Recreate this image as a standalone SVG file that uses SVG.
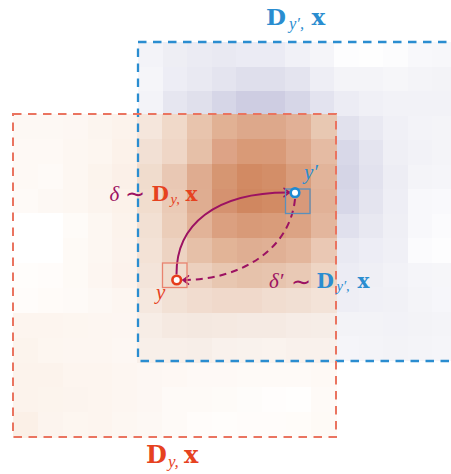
<svg xmlns="http://www.w3.org/2000/svg" width="451" height="474" viewBox="0 0 451 474">
<style>
.cells rect{shape-rendering:crispEdges;width:1.02px;height:1.02px}
.bf{font-family:"DejaVu Serif","Liberation Serif",serif;font-weight:bold}
.it{font-family:"Liberation Serif","DejaVu Serif",serif;font-style:italic}
.sym{font-family:"DejaVu Sans","DejaVu Serif",sans-serif}
.red{fill:#e6421f}
.blu{fill:#2a8dd0}
.pur{fill:#9c1262}
.conn{fill:none;stroke:#9c1262;stroke-width:2}
</style>
<defs>
<marker id="arr" markerUnits="userSpaceOnUse" markerWidth="14" markerHeight="14" viewBox="-7 -7 14 14" refX="0" refY="0" orient="auto" overflow="visible">
<path d="M -5.5 -4.2 Q -1.8 -1.2 0 0 Q -1.8 1.2 -5.5 4.2" fill="none" stroke="#9c1262" stroke-width="1.6" stroke-dasharray="none" stroke-linecap="round"/>
</marker>
</defs>
<rect width="451" height="474" fill="#ffffff"/>
<g id="heatmap-blue" class="cells" transform="translate(138,42) scale(24.5)">
<rect x="0" y="0" fill="#f3f3f8"/><rect x="1" y="0" fill="#eeeef4"/><rect x="2" y="0" fill="#ebebf3"/><rect x="3" y="0" fill="#e9e9f2"/><rect x="4" y="0" fill="#ebebf4"/><rect x="5" y="0" fill="#ebebf4"/><rect x="6" y="0" fill="#f1f1f7"/><rect x="7" y="0" fill="#f5f5f9"/><rect x="8" y="0" fill="#fdfdfe"/><rect x="9" y="0" fill="#fefefe"/><rect x="10" y="0" fill="#fcfcfd"/><rect x="11" y="0" fill="#f8f8fb"/><rect x="12" y="0" fill="#f7f7fa"/>
<rect x="0" y="1" fill="#f5f5f9"/><rect x="1" y="1" fill="#ededf5"/><rect x="2" y="1" fill="#e9e9f2"/><rect x="3" y="1" fill="#e4e4ef"/><rect x="4" y="1" fill="#dfdfec"/><rect x="5" y="1" fill="#dfdfec"/><rect x="6" y="1" fill="#e4e4ef"/><rect x="7" y="1" fill="#eeeef5"/><rect x="8" y="1" fill="#f4f4f8"/><rect x="9" y="1" fill="#f4f4f8"/><rect x="10" y="1" fill="#f6f6f9"/><rect x="11" y="1" fill="#f4f4f8"/><rect x="12" y="1" fill="#f3f3f7"/>
<rect x="0" y="2" fill="#f3f3f8"/><rect x="1" y="2" fill="#e6e6f0"/><rect x="2" y="2" fill="#e0e0ec"/><rect x="3" y="2" fill="#d6d6e7"/><rect x="4" y="2" fill="#cecde2"/><rect x="5" y="2" fill="#cecde2"/><rect x="6" y="2" fill="#d6d6e7"/><rect x="7" y="2" fill="#e3e3ef"/><rect x="8" y="2" fill="#ececf4"/><rect x="9" y="2" fill="#f0f0f6"/><rect x="10" y="2" fill="#f2f2f7"/><rect x="11" y="2" fill="#f2f2f7"/><rect x="12" y="2" fill="#f2f2f7"/>
<rect x="8" y="3" fill="#e1e1ed"/><rect x="9" y="3" fill="#e9e9f2"/><rect x="10" y="3" fill="#f0f0f6"/><rect x="11" y="3" fill="#f3f3f8"/><rect x="12" y="3" fill="#f4f4f8"/>
<rect x="8" y="4" fill="#d8d8e8"/><rect x="9" y="4" fill="#e4e4ef"/><rect x="10" y="4" fill="#efeff5"/><rect x="11" y="4" fill="#f2f2f7"/><rect x="12" y="4" fill="#f4f4f8"/>
<rect x="8" y="5" fill="#d5d5e6"/><rect x="9" y="5" fill="#e2e2ee"/><rect x="10" y="5" fill="#ededf4"/><rect x="11" y="5" fill="#f4f4f8"/><rect x="12" y="5" fill="#f5f5f9"/>
<rect x="8" y="6" fill="#d7d7e8"/><rect x="9" y="6" fill="#e4e4ef"/><rect x="10" y="6" fill="#eeeef5"/><rect x="11" y="6" fill="#f8f8fb"/><rect x="12" y="6" fill="#f9f9fc"/>
<rect x="8" y="7" fill="#e0e0ed"/><rect x="9" y="7" fill="#e8e8f1"/><rect x="10" y="7" fill="#efeff5"/><rect x="11" y="7" fill="#f8f8fb"/><rect x="12" y="7" fill="#fbfbfd"/>
<rect x="8" y="8" fill="#e9e9f2"/><rect x="9" y="8" fill="#ededf5"/><rect x="10" y="8" fill="#f0f0f6"/><rect x="11" y="8" fill="#fbfbfd"/><rect x="12" y="8" fill="#fdfdfe"/>
<rect x="8" y="9" fill="#ececf4"/><rect x="9" y="9" fill="#efeff5"/><rect x="10" y="9" fill="#f2f2f7"/><rect x="11" y="9" fill="#f5f5f9"/><rect x="12" y="9" fill="#f6f6f9"/>
<rect x="8" y="10" fill="#eeeef5"/><rect x="9" y="10" fill="#f0f0f6"/><rect x="10" y="10" fill="#f1f1f6"/><rect x="11" y="10" fill="#f4f4f8"/><rect x="12" y="10" fill="#f6f6fa"/>
<rect x="8" y="11" fill="#f3f3f7"/><rect x="9" y="11" fill="#f3f3f7"/><rect x="10" y="11" fill="#f2f2f7"/><rect x="11" y="11" fill="#f3f3f7"/><rect x="12" y="11" fill="#f4f4f8"/>
<rect x="8" y="12" fill="#f5f5f9"/><rect x="9" y="12" fill="#f4f4f8"/><rect x="10" y="12" fill="#f3f3f7"/><rect x="11" y="12" fill="#f4f4f8"/><rect x="12" y="12" fill="#f5f5f9"/>
</g>
<g id="heatmap-orange" class="cells" transform="translate(13,114) scale(24.85)">
<rect x="0" y="0" fill="#fdf8f4"/><rect x="1" y="0" fill="#fdf8f4"/><rect x="2" y="0" fill="#fdf7f3"/><rect x="3" y="0" fill="#fcf5ef"/><rect x="4" y="0" fill="#fcf3ec"/><rect x="5" y="0" fill="#f5e6dc"/><rect x="6" y="0" fill="#f0d9c9"/><rect x="7" y="0" fill="#e8c4ad"/><rect x="8" y="0" fill="#e1b194"/><rect x="9" y="0" fill="#dda88b"/><rect x="10" y="0" fill="#dda88b"/><rect x="11" y="0" fill="#e1b096"/><rect x="12" y="0" fill="#e8c8b2"/>
<rect x="0" y="1" fill="#fef9f5"/><rect x="1" y="1" fill="#fef9f5"/><rect x="2" y="1" fill="#fdf7f2"/><rect x="3" y="1" fill="#fdf6f0"/><rect x="4" y="1" fill="#fcf2ea"/><rect x="5" y="1" fill="#f2e0d4"/><rect x="6" y="1" fill="#efd6c6"/><rect x="7" y="1" fill="#e6c0a8"/><rect x="8" y="1" fill="#dda386"/><rect x="9" y="1" fill="#d99a77"/><rect x="10" y="1" fill="#d99a78"/><rect x="11" y="1" fill="#dea88b"/><rect x="12" y="1" fill="#e5bba3"/>
<rect x="0" y="2" fill="#fef9f5"/><rect x="1" y="2" fill="#fefaf7"/><rect x="2" y="2" fill="#fdf7f2"/><rect x="3" y="2" fill="#fcf4ed"/><rect x="4" y="2" fill="#fbf0e8"/><rect x="5" y="2" fill="#f0dccd"/><rect x="6" y="2" fill="#e9c8b4"/><rect x="7" y="2" fill="#dfac90"/><rect x="8" y="2" fill="#d69672"/><rect x="9" y="2" fill="#d28a63"/><rect x="10" y="2" fill="#d38e68"/><rect x="11" y="2" fill="#d99d7c"/><rect x="12" y="2" fill="#e2b49a"/>
<rect x="0" y="3" fill="#fefaf7"/><rect x="1" y="3" fill="#fdf8f4"/><rect x="2" y="3" fill="#fdf7f2"/><rect x="3" y="3" fill="#fcf4ee"/><rect x="4" y="3" fill="#fcf2ea"/><rect x="5" y="3" fill="#f1ddce"/><rect x="6" y="3" fill="#eacab6"/><rect x="7" y="3" fill="#dfad91"/><rect x="8" y="3" fill="#d59270"/><rect x="9" y="3" fill="#d08760"/><rect x="10" y="3" fill="#d28b64"/><rect x="11" y="3" fill="#d8997a"/><rect x="12" y="3" fill="#e1b197"/>
<rect x="0" y="4" fill="#ffffff"/><rect x="1" y="4" fill="#ffffff"/><rect x="2" y="4" fill="#fefbf8"/><rect x="3" y="4" fill="#fdf7f2"/><rect x="4" y="4" fill="#fcf3ec"/><rect x="5" y="4" fill="#f2e0d3"/><rect x="6" y="4" fill="#ebcdb9"/><rect x="7" y="4" fill="#e2b398"/><rect x="8" y="4" fill="#dba080"/><rect x="9" y="4" fill="#d89a78"/><rect x="10" y="4" fill="#d99c7a"/><rect x="11" y="4" fill="#dca384"/><rect x="12" y="4" fill="#e3b69d"/>
<rect x="0" y="5" fill="#ffffff"/><rect x="1" y="5" fill="#ffffff"/><rect x="2" y="5" fill="#fefaf6"/><rect x="3" y="5" fill="#fdf7f2"/><rect x="4" y="5" fill="#fcf3ed"/><rect x="5" y="5" fill="#f3e2d6"/><rect x="6" y="5" fill="#edd3c2"/><rect x="7" y="5" fill="#e6c0a8"/><rect x="8" y="5" fill="#e2b497"/><rect x="9" y="5" fill="#dfae92"/><rect x="10" y="5" fill="#e0b095"/><rect x="11" y="5" fill="#e3b69c"/><rect x="12" y="5" fill="#eac8b4"/>
<rect x="0" y="6" fill="#fffdfb"/><rect x="1" y="6" fill="#fffcfa"/><rect x="2" y="6" fill="#fefaf6"/><rect x="3" y="6" fill="#fdf6f1"/><rect x="4" y="6" fill="#fcf2ec"/><rect x="5" y="6" fill="#f3e4da"/><rect x="6" y="6" fill="#f0dccd"/><rect x="7" y="6" fill="#ecd0be"/><rect x="8" y="6" fill="#e8c7b1"/><rect x="9" y="6" fill="#e6c2ab"/><rect x="10" y="6" fill="#e7c4ae"/><rect x="11" y="6" fill="#e9c9b5"/><rect x="12" y="6" fill="#eed5c4"/>
<rect x="0" y="7" fill="#fffcfa"/><rect x="1" y="7" fill="#fffbf8"/><rect x="2" y="7" fill="#fefaf7"/><rect x="3" y="7" fill="#fdf8f4"/><rect x="4" y="7" fill="#fdf6f1"/><rect x="5" y="7" fill="#f5e8df"/><rect x="6" y="7" fill="#f2e1d5"/><rect x="7" y="7" fill="#f1dccf"/><rect x="8" y="7" fill="#f0d9cb"/><rect x="9" y="7" fill="#f0d9cb"/><rect x="10" y="7" fill="#f1ddd0"/><rect x="11" y="7" fill="#f1dfd3"/><rect x="12" y="7" fill="#f3e3d8"/>
<rect x="0" y="8" fill="#fdf5ef"/><rect x="1" y="8" fill="#fdf5ef"/><rect x="2" y="8" fill="#fdf6f0"/><rect x="3" y="8" fill="#fdf6f1"/><rect x="4" y="8" fill="#fdf6f2"/><rect x="5" y="8" fill="#f7ede6"/><rect x="6" y="8" fill="#f5e9e1"/><rect x="7" y="8" fill="#f4e8e0"/><rect x="8" y="8" fill="#f5e9e1"/><rect x="9" y="8" fill="#f5eae3"/><rect x="10" y="8" fill="#f5eae3"/><rect x="11" y="8" fill="#f6ece6"/><rect x="12" y="8" fill="#f6ede7"/>
<rect x="0" y="9" fill="#fcf4ed"/><rect x="1" y="9" fill="#fdf6f0"/><rect x="2" y="9" fill="#fdf6f1"/><rect x="3" y="9" fill="#fdf6f1"/><rect x="4" y="9" fill="#fdf7f3"/><rect x="5" y="9" fill="#f8efe9"/><rect x="6" y="9" fill="#f8efe9"/><rect x="7" y="9" fill="#f7eee8"/><rect x="8" y="9" fill="#f9f1ec"/><rect x="9" y="9" fill="#f9f2ed"/><rect x="10" y="9" fill="#faf3ee"/><rect x="11" y="9" fill="#f9f1ec"/><rect x="12" y="9" fill="#f9f1ec"/>
<rect x="0" y="10" fill="#fcf3ec"/><rect x="1" y="10" fill="#fcf3ec"/><rect x="2" y="10" fill="#fdf5ef"/><rect x="3" y="10" fill="#fdf5ef"/><rect x="4" y="10" fill="#fdf6f1"/><rect x="5" y="10" fill="#fdf7f3"/><rect x="6" y="10" fill="#fef8f4"/><rect x="7" y="10" fill="#fef9f6"/><rect x="8" y="10" fill="#fef9f6"/><rect x="9" y="10" fill="#fefaf7"/><rect x="10" y="10" fill="#fefaf7"/><rect x="11" y="10" fill="#fefaf7"/><rect x="12" y="10" fill="#fef9f5"/>
<rect x="0" y="11" fill="#fcf3ec"/><rect x="1" y="11" fill="#fcf4ed"/><rect x="2" y="11" fill="#fcf4ee"/><rect x="3" y="11" fill="#fdf5ef"/><rect x="4" y="11" fill="#fdf6f1"/><rect x="5" y="11" fill="#fdf7f3"/><rect x="6" y="11" fill="#fefaf7"/><rect x="7" y="11" fill="#fefaf7"/><rect x="8" y="11" fill="#fefbf8"/><rect x="9" y="11" fill="#fefcfa"/><rect x="10" y="11" fill="#fffdfc"/><rect x="11" y="11" fill="#fffefd"/><rect x="12" y="11" fill="#fefaf7"/>
<rect x="0" y="12" fill="#fbf0e7"/><rect x="1" y="12" fill="#fcf4ee"/><rect x="2" y="12" fill="#fdf6f0"/><rect x="3" y="12" fill="#fdf5ef"/><rect x="4" y="12" fill="#fdf7f2"/><rect x="5" y="12" fill="#fdf8f4"/><rect x="6" y="12" fill="#fefaf7"/><rect x="7" y="12" fill="#fffcfa"/><rect x="8" y="12" fill="#fffdfb"/><rect x="9" y="12" fill="#fffcfa"/><rect x="10" y="12" fill="#fffcfa"/><rect x="11" y="12" fill="#fffcf9"/><rect x="12" y="12" fill="#fefaf6"/>
</g>
<g id="borders" fill="none">
<rect id="border-blue" x="138" y="42" width="318.5" height="319" stroke="#2a8dd0" stroke-width="2.3" stroke-dasharray="8.5 6.5"/>
<rect id="border-orange" x="13" y="114" width="323" height="323" stroke="#ea7460" stroke-width="2" stroke-dasharray="8.5 6.5"/>
</g>
<g id="connectors">
<path class="conn" d="M 176.5 274.5 C 176 225 215 192 289.5 192.5" marker-end="url(#arr)"/>
<path class="conn" d="M 295 199 C 290 250 240 280 183 280" stroke-dasharray="7 5" marker-end="url(#arr)"/>
</g>
<g id="node-y">
<rect x="162.5" y="263" width="24.5" height="24.5" fill="none" stroke="#e8836f" stroke-width="1.3"/>
<circle cx="176.7" cy="280" r="4.3" fill="#ffffff" stroke="#e63c1c" stroke-width="2.6"/>
<text class="it red" x="156" y="298.5" font-size="21">y</text>
</g>
<g id="node-yprime">
<rect x="285.5" y="189" width="24.5" height="24.5" fill="none" stroke="#5a90bb" stroke-width="1.3"/>
<circle cx="295" cy="192.7" r="4.3" fill="#ffffff" stroke="#1d8ad2" stroke-width="2.6"/>
<text class="it blu" x="304" y="178.5" font-size="21">y′</text>
</g>
<g id="labels">
<text id="label-top" class="blu"><tspan class="bf" x="266" y="25" font-size="23">D</tspan><tspan class="it" x="289" y="28.5" font-size="16.5">y′,</tspan><tspan class="bf" x="311.5" y="25" font-size="23">x</tspan></text>
<text id="label-bottom" class="red"><tspan class="bf" x="146" y="463" font-size="24">D</tspan><tspan class="it" x="168" y="466.5" font-size="17">y,</tspan><tspan class="bf" x="184" y="463" font-size="24">x</tspan></text>
<text id="label-delta"><tspan class="it pur" x="109.5" y="200.5" font-size="21">δ</tspan><tspan class="sym pur" x="125" y="202" font-size="24">∼</tspan><tspan class="bf red" x="151.5" y="200.5" font-size="20">D</tspan><tspan class="it red" x="170.5" y="203.5" font-size="14.5">y,</tspan><tspan class="bf red" x="185.5" y="200.5" font-size="20">x</tspan></text>
<text id="label-deltaprime"><tspan class="it pur" x="269" y="288" font-size="21">δ′</tspan><tspan class="sym pur" x="291" y="289.5" font-size="24">∼</tspan><tspan class="bf blu" x="316.5" y="288" font-size="20">D</tspan><tspan class="it blu" x="336.5" y="290.5" font-size="14.5">y′,</tspan><tspan class="bf blu" x="357.5" y="288" font-size="20">x</tspan></text>
</g>
</svg>
